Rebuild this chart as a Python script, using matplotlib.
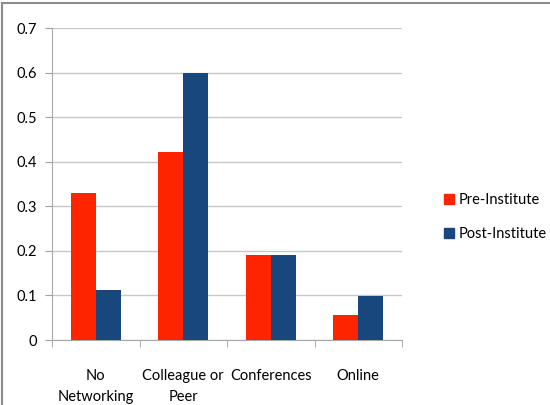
import numpy as np
import matplotlib.pyplot as plt
from matplotlib.lines import Line2D

# Data
categories = ['No\nNetworking', 'Colleague or\nPeer', 'Conferences', 'Online']
pre_institute = [0.33, 0.422, 0.19, 0.056]
post_institute = [0.112, 0.6, 0.19, 0.099]
series_names = ['Pre-Institute', 'Post-Institute']

plt.rcParams['font.family'] = ['Lato', 'DejaVu Sans']

red = '#FF2400'
blue = '#18477D'
grid_col = '#C8C8C8'

fig = plt.figure(figsize=(5.5, 4.05), dpi=100)
ax = fig.add_axes([52/550, 1-340/405, 350/550, 312/405])

x = np.arange(len(categories))
w = 0.285
ax.bar(x - w/2, pre_institute, w, color=red, label=series_names[0], zorder=3)
ax.bar(x + w/2, post_institute, w, color=blue, label=series_names[1], zorder=3)

ax.set_xlim(-0.5, len(categories) - 0.5)
ax.set_ylim(0, 0.7)
ax.set_yticks(np.arange(0, 0.71, 0.1))
ax.set_yticklabels(['0', '0.1', '0.2', '0.3', '0.4', '0.5', '0.6', '0.7'], fontsize=10.5)
ax.yaxis.grid(True, color=grid_col, linewidth=1, zorder=0)

# category labels centred, ticks at boundaries
ax.set_xticks(x)
ax.set_xticklabels(categories, fontsize=10.5, linespacing=1.65)
ax.tick_params(axis='x', length=0, pad=21)
ax.set_xticks(np.arange(-0.5, len(categories), 1), minor=True)
ax.tick_params(axis='x', which='minor', length=5, color='#A0A0A0')
ax.tick_params(axis='y', length=5, color='#A0A0A0', pad=6)

for s in ['top', 'right']:
    ax.spines[s].set_visible(False)
for s in ['left', 'bottom']:
    ax.spines[s].set_color('#A8A8A8')

handles = [Line2D([], [], marker='s', linestyle='none', color=c, markersize=7)
           for c in (red, blue)]
fig.legend(handles, series_names, loc='center left', bbox_to_anchor=(429/550, 1-217/405),
           frameon=False, fontsize=10.5, handletextpad=0.1, labelspacing=1.35, handlelength=1)

# chart border
fig.add_artist(Line2D([2/550, 2/550], [0, 1-3/405], color='#8C8C8C', linewidth=1.5))
fig.add_artist(Line2D([2/550, 1], [1-3/405, 1-3/405], color='#8C8C8C', linewidth=1.5))

fig.savefig('out.png', dpi=100)
